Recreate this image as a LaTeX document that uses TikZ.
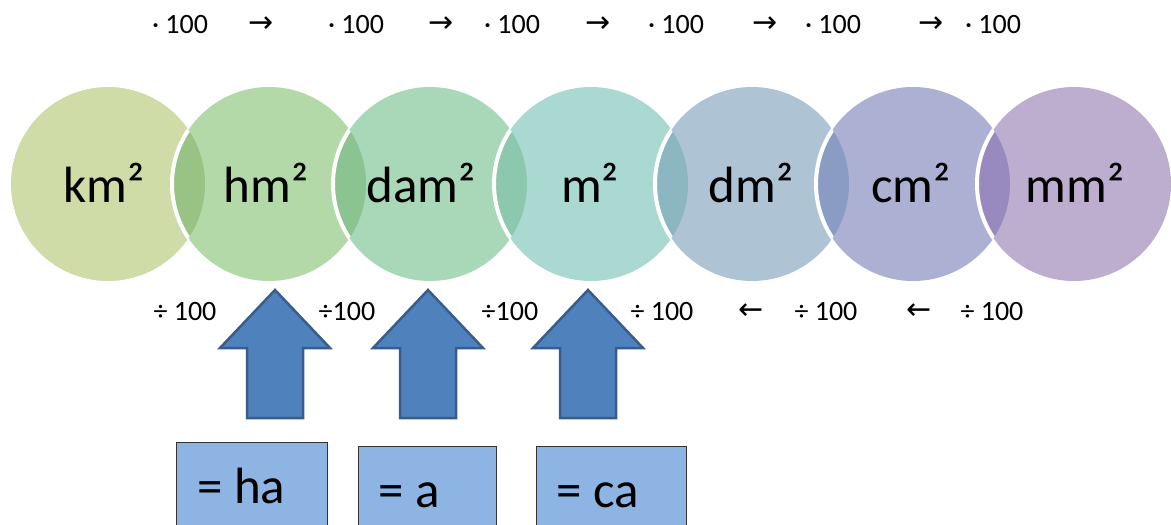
\documentclass[tikz,border=0pt]{standalone}
\usepackage{fontspec}
\setmainfont{Carlito}
\newfontfamily\arrowfont{DejaVu Sans}
\definecolor{ckm}{HTML}{CFDCA8}
\definecolor{chm}{HTML}{B4D9A8}
\definecolor{cdam}{HTML}{A8D8B8}
\definecolor{cm}{HTML}{A9D9D0}
\definecolor{cdm}{HTML}{AEC3D3}
\definecolor{ccm}{HTML}{ACB1D3}
\definecolor{cmm}{HTML}{BDAED0}
\definecolor{lA}{HTML}{98C384}
\definecolor{lB}{HTML}{8BC490}
\definecolor{lC}{HTML}{8CC8AD}
\definecolor{lD}{HTML}{8CB6C0}
\definecolor{lE}{HTML}{8A9BC4}
\definecolor{lF}{HTML}{988ABF}
\definecolor{arrfill}{HTML}{4F81BD}
\definecolor{arrline}{HTML}{385D8A}
\definecolor{boxfill}{HTML}{8EB4E3}
\begin{document}
\begin{tikzpicture}[x=1pt,y=-1pt,
  unit/.style={circle,minimum size=194pt,inner sep=0pt},
  unittext/.style={inner sep=0pt,font=\fontsize{51}{53}\selectfont},
  oplabel/.style={font=\fontsize{28}{30}\selectfont,inner sep=0pt},
  arrlabel/.style={font=\arrowfont\fontsize{30}{32}\selectfont,inner sep=0pt},
  bigarrow/.style={fill=arrfill,draw=arrline,line width=2.5pt,line join=miter},
  namebox/.style={draw=black!80,line width=0.8pt,fill=boxfill,anchor=north west,inner sep=0pt},
  boxtext/.style={font=\fontsize{51}{53}\selectfont,anchor=base west,inner sep=0pt}]
\useasboundingbox (0,0) rectangle (1171,525);
\fill[white] (0,0) rectangle (1171,525);
% circles
\node[unit,fill=ckm] (km) at (108,184) {};
\node[unit,fill=chm] (hm) at (269,184) {};
\begin{scope}\clip (km.center) circle (97pt);
  \fill[lA] (hm.center) circle (97pt);
  \draw[white,line width=4pt] (hm.center) circle (97pt);
\end{scope}
\node[unit,fill=cdam] (dam) at (430,184) {};
\begin{scope}\clip (hm.center) circle (97pt);
  \fill[lB] (dam.center) circle (97pt);
  \draw[white,line width=4pt] (dam.center) circle (97pt);
\end{scope}
\node[unit,fill=cm] (m) at (591,184) {};
\begin{scope}\clip (dam.center) circle (97pt);
  \fill[lC] (m.center) circle (97pt);
  \draw[white,line width=4pt] (m.center) circle (97pt);
\end{scope}
\node[unit,fill=cdm] (dm) at (752,184) {};
\begin{scope}\clip (m.center) circle (97pt);
  \fill[lD] (dm.center) circle (97pt);
  \draw[white,line width=4pt] (dm.center) circle (97pt);
\end{scope}
\node[unit,fill=ccm] (cmc) at (913,184) {};
\begin{scope}\clip (dm.center) circle (97pt);
  \fill[lE] (cmc.center) circle (97pt);
  \draw[white,line width=4pt] (cmc.center) circle (97pt);
\end{scope}
\node[unit,fill=cmm] (mm) at (1074,184) {};
\begin{scope}\clip (cmc.center) circle (97pt);
  \fill[lF] (mm.center) circle (97pt);
  \draw[white,line width=4pt] (mm.center) circle (97pt);
\end{scope}
% circle labels
\node[unittext] (tkm) at (104,183) {km²};
\node[unittext] (thm) at (266,183) {hm²};
\node[unittext] (tdam) at (421,183) {dam²};
\node[unittext] (tm) at (590,183) {m²};
\node[unittext] (tdm) at (751,183) {dm²};
\node[unittext] (tcm) at (911,183) {cm²};
\node[unittext] (tmm) at (1075,183) {mm²};
% top row
\node[oplabel] (t1) at (180,25) {· 100};
\node[arrlabel] (ta1) at (261,25) {→};
\node[oplabel] (t2) at (356,25) {· 100};
\node[arrlabel] (ta2) at (441,25) {→};
\node[oplabel] (t3) at (512,25) {· 100};
\node[arrlabel] (ta3) at (598,25) {→};
\node[oplabel] (t4) at (676,25) {· 100};
\node[arrlabel] (ta4) at (765,25) {→};
\node[oplabel] (t5) at (833,25) {· 100};
\node[arrlabel] (ta5) at (931,25) {→};
\node[oplabel] (t6) at (993,25) {· 100};
% bottom row
\node[oplabel] (b1) at (185,312) {÷ 100};
\node[oplabel] (b2) at (347,312) {÷100};
\node[oplabel] (b3) at (510,312) {÷100};
\node[oplabel] (b4) at (662,312) {÷ 100};
\node[arrlabel] (ba1) at (751,312) {←};
\node[oplabel] (b5) at (826,312) {÷ 100};
\node[arrlabel] (ba2) at (919,312) {←};
\node[oplabel] (b6) at (992,312) {÷ 100};
% up arrows
\draw[bigarrow] (275,290) -- ++(55,58) -- ++(-27,0) -- ++(0,70) -- ++(-56,0) -- ++(0,-70) -- ++(-27,0) -- cycle;
\draw[bigarrow] (428,290) -- ++(55,58) -- ++(-27,0) -- ++(0,70) -- ++(-56,0) -- ++(0,-70) -- ++(-27,0) -- cycle;
\draw[bigarrow] (588,290) -- ++(55,58) -- ++(-27,0) -- ++(0,70) -- ++(-56,0) -- ++(0,-70) -- ++(-27,0) -- cycle;
% boxes
\node[namebox,minimum width=151pt,minimum height=90pt] (ha) at (176,442) {};
\node[namebox,minimum width=138pt,minimum height=90pt] (a) at (358,446) {};
\node[namebox,minimum width=150pt,minimum height=90pt] (ca) at (536,446) {};
\node[boxtext] (tha) at (197,503) {= ha};
\node[boxtext] (ta) at (378,507) {= a};
\node[boxtext] (tca) at (556,507) {= ca};
\end{tikzpicture}
\end{document}
